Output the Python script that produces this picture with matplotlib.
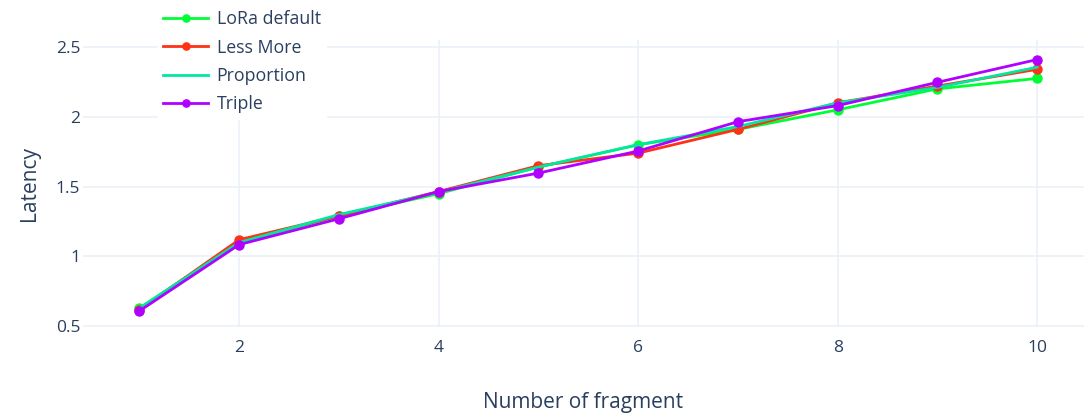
import matplotlib
matplotlib.use("Agg")
import matplotlib.pyplot as plt

fragments = [1, 2, 3, 4, 5, 6, 7, 8, 9, 10]
lora_default = [0.63, 1.10, 1.29, 1.45, 1.64, 1.80, 1.91, 2.05, 2.20, 2.275]
less_more = [0.62, 1.12, 1.29, 1.465, 1.65, 1.74, 1.91, 2.10, 2.22, 2.34]
proportion = [0.63, 1.10, 1.30, 1.46, 1.64, 1.80, 1.93, 2.10, 2.21, 2.355]
triple = [0.61, 1.085, 1.27, 1.465, 1.597, 1.755, 1.965, 2.08, 2.247, 2.41]

xticks = [2, 4, 6, 8, 10]
yticks = [0.5, 1, 1.5, 2, 2.5]
ytick_labels = ["0.5", "1", "1.5", "2", "2.5"]

plt.rcParams['font.family'] = ['Open Sans', 'DejaVu Sans']
text_color = '#2a3f5f'
grid_color = '#EBF0F8'

W, H = 1084, 417
fig = plt.figure(figsize=(W / 100, H / 100), dpi=100)
ax = fig.add_axes([83 / W, 1 - 327 / H, (W - 83) / W, (327 - 40) / H])

ax.plot(fragments, lora_default, color='#00FE35', lw=2, marker='o', ms=6.5, label='LoRa default', zorder=3)
ax.plot(fragments, less_more, color='#FD3216', lw=2, marker='o', ms=6.5, label='Less More', zorder=3)
ax.plot(fragments, proportion, color='#00E8A0', lw=2, label='Proportion', zorder=3)
ax.plot(fragments, triple, color='#B000FF', lw=2, marker='o', ms=6.5, label='Triple', zorder=4)

ax.set_xlim(0.434, 10.47)
ax.set_ylim(0.495, 2.55)
ax.set_xticks(xticks)
ax.set_xticklabels([str(t) for t in xticks])
ax.set_yticks(yticks)
ax.set_yticklabels(ytick_labels)
ax.grid(True, color=grid_color, lw=1.2)
ax.set_axisbelow(True)
for s in ax.spines.values():
    s.set_visible(False)
ax.tick_params(axis='both', length=0, labelsize=12.5, colors=text_color)
ax.tick_params(axis='x', pad=9)
ax.tick_params(axis='y', pad=2)
ax.set_xlabel('Number of fragment', fontsize=15, color=text_color, labelpad=26)
ax.set_ylabel('Latency', fontsize=15, color=text_color, labelpad=11)

leg = fig.legend(loc='upper left', bbox_to_anchor=(158 / W, 1 - 5 / H), frameon=True,
                 fontsize=12.8, labelcolor=text_color, handlelength=2.5, handletextpad=0.5,
                 borderpad=0.3, borderaxespad=0, labelspacing=0.58, fancybox=False, markerscale=0.8)
leg.get_frame().set_edgecolor('white')
leg.get_frame().set_facecolor('white')
leg.get_frame().set_alpha(1)
for t in leg.get_texts():
    t.set_color(text_color)

fig.savefig('out.png', dpi=100)
